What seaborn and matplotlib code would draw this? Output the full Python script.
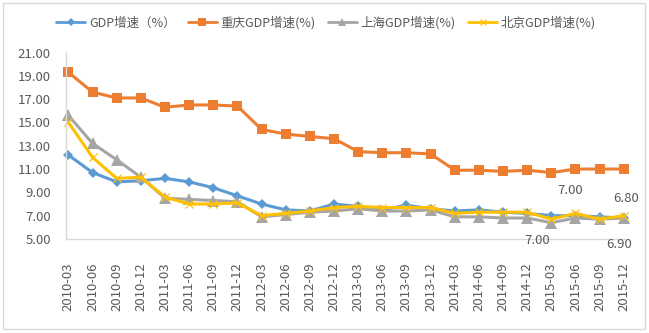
import matplotlib
matplotlib.use("Agg")
import matplotlib.pyplot as plt
from matplotlib.patches import Rectangle
from matplotlib.lines import Line2D
import seaborn as sns
import pandas as pd

quarters = ["2010-03", "2010-06", "2010-09", "2010-12",
            "2011-03", "2011-06", "2011-09", "2011-12",
            "2012-03", "2012-06", "2012-09", "2012-12",
            "2013-03", "2013-06", "2013-09", "2013-12",
            "2014-03", "2014-06", "2014-09", "2014-12",
            "2015-03", "2015-06", "2015-09", "2015-12"]

national = [12.2, 10.7, 9.9, 10.0, 10.2, 9.9, 9.4, 8.7, 8.0, 7.5, 7.4, 8.0,
            7.8, 7.5, 7.9, 7.6, 7.4, 7.5, 7.3, 7.2, 7.0, 7.0, 6.9, 6.8]
chongqing = [19.3, 17.6, 17.1, 17.1, 16.3, 16.5, 16.5, 16.4, 14.4, 14.0, 13.8, 13.6,
             12.5, 12.4, 12.4, 12.3, 10.9, 10.9, 10.8, 10.9, 10.7, 11.0, 11.0, 11.0]
shanghai = [15.6, 13.2, 11.8, 10.3, 8.5, 8.4, 8.3, 8.2, 6.9, 7.1, 7.3, 7.4,
            7.6, 7.4, 7.4, 7.5, 6.9, 6.9, 6.8, 6.8, 6.4, 6.8, 6.7, 6.8]
beijing = [15.0, 12.0, 10.2, 10.3, 8.6, 8.0, 8.0, 8.1, 7.0, 7.2, 7.4, 7.7,
           7.8, 7.7, 7.7, 7.7, 7.2, 7.3, 7.3, 7.3, 6.7, 7.2, 6.7, 7.0]

series_names = ["GDP增速（%）", "重庆GDP增速(%)", "上海GDP增速(%)", "北京GDP增速(%)"]
y_ticks = [5, 7, 9, 11, 13, 15, 17, 19, 21]

sns.set_theme(style="white")
plt.rcParams["font.family"] = ["Noto Sans CJK SC", "DejaVu Sans"]

TEXT = "#595959"
AXIS = "#D9D9D9"
styles = [
    dict(color="#5B9BD5", marker="D", markersize=5.5, markeredgewidth=0),
    dict(color="#ED7D31", marker="s", markersize=7.5, markeredgewidth=0),
    dict(color="#A5A5A5", marker="^", markersize=8, markeredgewidth=0),
    dict(color="#FFC000", marker="x", markersize=6, markeredgewidth=0.9),
]

fig = plt.figure(figsize=(6.49, 3.33), dpi=100)
ax = fig.add_axes([66 / 649, (333 - 239) / 333, (625 - 66) / 649, (239 - 52.5) / 333])

pos = list(range(len(quarters)))
for name, vals, st in zip(series_names, [national, chongqing, shanghai, beijing], styles):
    df = pd.DataFrame({"pos": pos, "value": vals})
    sns.lineplot(data=df, x="pos", y="value", ax=ax, color=st["color"],
                 linewidth=2.2, marker=st["marker"], markersize=st["markersize"],
                 markeredgewidth=st["markeredgewidth"], markeredgecolor=st["color"],
                 clip_on=False, legend=False)

ax.set_xlim(-0.1, len(quarters) - 1 + 0.05)
ax.set_ylim(5, 21)
ax.set_yticks(y_ticks)
ax.set_yticklabels([f"{v:.2f}" for v in y_ticks], fontsize=9.5, color=TEXT)
ax.set_xticks(pos)
ax.set_xticklabels(quarters, rotation=90, fontsize=9.5, color=TEXT)
ax.tick_params(axis="y", length=0, pad=11)
ax.tick_params(axis="x", length=0, pad=17)
ax.set_xlabel("")
ax.set_ylabel("")
for side in ["top", "right"]:
    ax.spines[side].set_visible(False)
for side in ["left", "bottom"]:
    ax.spines[side].set_color(AXIS)
    ax.spines[side].set_linewidth(1)

# value labels for the national series in 2015
label_offsets = {20: (-10, -18), 21: (-4, 18), 22: (14, -20), 23: (2, 14)}
for i, (dx, dy) in label_offsets.items():
    ax.annotate(f"{national[i]:.2f}", xy=(i, national[i]), xytext=(dx, dy),
                textcoords="offset points", ha="center", va="center",
                fontsize=9.5, color=TEXT)

# legend across the top
handles = [Line2D([0], [0], color=st["color"], linewidth=2, marker=st["marker"],
                  markersize=st["markersize"] * 0.75,
                  markeredgewidth=st["markeredgewidth"], markeredgecolor=st["color"])
           for st in styles]
fig.legend(handles, series_names, loc="center", bbox_to_anchor=(326 / 649, 1 - 23 / 333),
           ncol=4, frameon=False, fontsize=9, handlelength=2.3, handletextpad=0.3,
           columnspacing=1.0, labelcolor=TEXT)

# chart frame
fig.patches.append(Rectangle((3 / 649, 4 / 333), 642 / 649, 326 / 333,
                             transform=fig.transFigure, fill=False,
                             edgecolor=AXIS, linewidth=1))

fig.savefig("out.png", dpi=100, facecolor="white")
